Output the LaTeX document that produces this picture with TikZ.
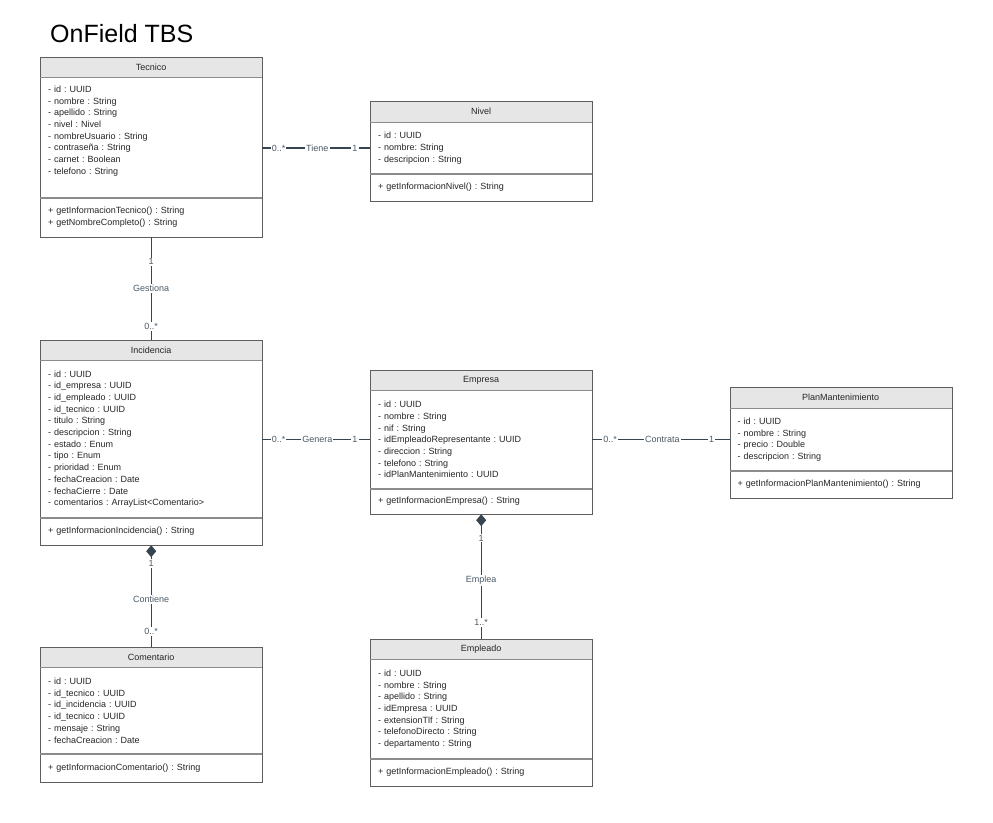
\documentclass[tikz,border=0pt]{standalone}
\usepackage{fontspec}
\setmainfont{Liberation Sans}
\usetikzlibrary{arrows.meta, positioning}
\definecolor{umlborder}{HTML}{5E5E5E}
\definecolor{headfill}{HTML}{E6E6E6}
\definecolor{sepgray}{HTML}{8C8C8C}
\definecolor{linkcol}{HTML}{36454F}
\definecolor{labelcol}{HTML}{4B5A66}
\frenchspacing
\tikzset{
  classhead/.style={
    rectangle, anchor=north west,
    minimum width=222pt, minimum height=#1,
    inner sep=0pt, font=\fontsize{9}{11.7}\selectfont,
    draw=umlborder, fill=headfill, text=black!85
  },
  classhead/.default=20pt,
  classpart/.style={
    rectangle, minimum width=222pt, minimum height=#1,
    text width=206pt, inner xsep=8pt, inner ysep=0pt, align=left,
    font=\fontsize{9}{11.7}\selectfont,
    draw=umlborder, fill=white, text=black!85
  },
  sepline/.style={draw=sepgray, line width=1.6pt},
  assoc/.style={draw=linkcol, line width=1.4pt},
  compo/.style={assoc, {Diamond[length=12pt, width=10pt, fill=linkcol]}-},
  lbl/.style={fill=white, inner sep=1.2pt, font=\fontsize{9}{11}\selectfont, text=labelcol},
}
\begin{document}
\begin{tikzpicture}[x=1pt, y=-1pt]
  \useasboundingbox (0,0) rectangle (993,822);

  \node[anchor=base west, inner sep=0pt, font=\fontsize{25}{29}\selectfont] (title) at (50,42) {OnField TBS};

  % Tecnico
  \node[classhead] (tecH) at (40,57) {Tecnico};
  \node[classpart=120pt, below=0pt of tecH] (tecA) {- id : UUID\\- nombre : String\\- apellido : String\\- nivel : Nivel\\- nombreUsuario : String\\- contraseña : String\\- carnet : Boolean\\- telefono : String\\ \strut};
  \node[classpart=39pt, below=0pt of tecA] (tecM) {+ getInformacionTecnico() : String\\+ getNombreCompleto() : String};

  % Nivel
  \node[classhead=21pt] (nivH) at (370,101) {Nivel};
  \node[classpart=51pt, below=0pt of nivH] (nivA) {- id : UUID\\- nombre: String\\- descripcion : String};
  \node[classpart=27pt, below=0pt of nivA] (nivM) {+ getInformacionNivel() : String};

  % Incidencia
  \node[classhead] (incH) at (40,340) {Incidencia};
  \node[classpart=157pt, below=0pt of incH] (incA) {- id : UUID\\- id\_empresa : UUID\\- id\_empleado : UUID\\- id\_tecnico : UUID\\- titulo : String\\- descripcion : String\\- estado : Enum\\- tipo : Enum\\- prioridad : Enum\\- fechaCreacion : Date\\- fechaCierre : Date\\- comentarios : ArrayList<Comentario>};
  \node[classpart=27pt, below=0pt of incA] (incM) {+ getInformacionIncidencia() : String};

  % Empresa
  \node[classhead] (empH) at (370,370) {Empresa};
  \node[classpart=98pt, below=0pt of empH] (empA) {- id : UUID\\- nombre : String\\- nif : String\\- idEmpleadoRepresentante : UUID\\- direccion : String\\- telefono : String\\- idPlanMantenimiento : UUID};
  \node[classpart=25pt, below=0pt of empA] (empM) {+ getInformacionEmpresa() : String};

  % PlanMantenimiento
  \node[classhead=21pt] (plaH) at (729.5,387) {PlanMantenimiento};
  \node[classpart=62pt, below=0pt of plaH] (plaA) {- id : UUID\\- nombre : String\\- precio : Double\\- descripcion : String};
  \node[classpart=27pt, below=0pt of plaA] (plaM) {+ getInformacionPlanMantenimiento() : String};

  % Comentario
  \node[classhead] (comH) at (40,647) {Comentario};
  \node[classpart=86pt, below=0pt of comH] (comA) {- id : UUID\\- id\_tecnico : UUID\\- id\_incidencia : UUID\\- id\_tecnico : UUID\\- mensaje : String\\- fechaCreacion : Date};
  \node[classpart=28pt, below=0pt of comA] (comM) {+ getInformacionComentario() : String};

  % Empleado
  \node[classhead] (emlH) at (370,639) {Empleado};
  \node[classpart=99pt, below=0pt of emlH] (emlA) {- id : UUID\\- nombre : String\\- apellido : String\\- idEmpresa : UUID\\- extensionTlf : String\\- telefonoDirecto : String\\- departamento : String};
  \node[classpart=27pt, below=0pt of emlA] (emlM) {+ getInformacionEmpleado() : String};

  \foreach \c in {tec,niv,inc,emp,pla,com,eml} {
    \draw[sepline] (\c A.north west) -- (\c A.north east);
    \draw[sepline] (\c M.north west) -- (\c M.north east);
  }

  % relaciones
  \draw[assoc] (nivA.west -| tecA.east) -- (nivA.west)
    node[lbl, pos=0.15] {0..*} node[lbl, pos=0.51] {Tiene} node[lbl, pos=0.86] {1};
  \draw[assoc] (tecM.south) -- (incH.north)
    node[lbl, pos=0.24] {1} node[lbl, pos=0.5] {Gestiona} node[lbl, pos=0.87] {0..*};
  \draw[assoc] (empA.west -| incA.east) -- (empA.west)
    node[lbl, pos=0.15] {0..*} node[lbl, pos=0.51] {Genera} node[lbl, pos=0.86] {1};
  \draw[assoc] (plaA.west -| empA.east) -- (plaA.west)
    node[lbl, pos=0.13] {0..*} node[lbl, pos=0.51] {Contrata} node[lbl, pos=0.87] {1};
  \draw[compo] (incM.south) -- (comH.north)
    node[lbl, pos=0.18] {1} node[lbl, pos=0.53] {Contiene} node[lbl, pos=0.85] {0..*};
  \draw[compo] (empM.south) -- (emlH.north)
    node[lbl, pos=0.19] {1} node[lbl, pos=0.53] {Emplea} node[lbl, pos=0.87] {1..*};
\end{tikzpicture}
\end{document}
